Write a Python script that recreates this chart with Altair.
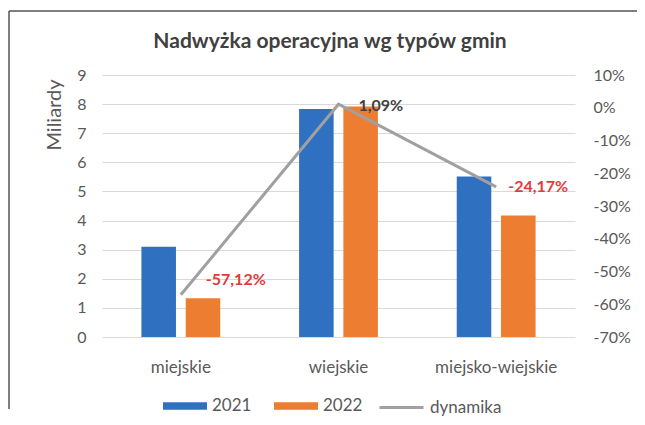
import altair as alt
import pandas as pd

title_text = "Nadwyżka operacyjna wg typów gmin"
categories = ["miejskie", "wiejskie", "miejsko-wiejskie"]
years = ["2021", "2022"]
values_2021 = [3.10, 7.83, 5.51]
values_2022 = [1.33, 7.92, 4.17]
dynamika = [-57.12, 1.09, -24.17]
dyn_labels = ["-57,12%", "1,09%", "-24,17%"]
line_name = "dynamika"
left_ticks = list(range(0, 10))
right_ticks = list(range(-70, 20, 10))

bars_df = pd.DataFrame({
    "cat": categories * 2,
    "year": [years[0]] * 3 + [years[1]] * 3,
    "val": values_2021 + values_2022,
})
line_df = pd.DataFrame({"cat": categories, "dyn": dynamika, "label": dyn_labels,
                        "series": [line_name] * 3})

FONT = "Lato"
BLUE = "#2f70c1"
ORANGE = "#ed7d31"
GRAY = "#a0a0a0"
RED = "#e23b3b"
DARK = "#404040"
LABEL = "#595959"
W, H = 473, 262

THICK = "M-1,-0.17H1V0.17H-1Z"

x_enc = alt.X(
    "cat:N", sort=categories,
    scale=alt.Scale(paddingInner=0.5, paddingOuter=0.25),
    axis=alt.Axis(title=None, labelAngle=0, ticks=False, domain=False, grid=False,
                  labelPadding=22, labelFontSize=17, labelColor=LABEL, labelFont=FONT),
)

bars = alt.Chart(bars_df).mark_bar().encode(
    x=x_enc,
    xOffset=alt.XOffset("year:N", scale=alt.Scale(paddingInner=0.22, paddingOuter=0)),
    y=alt.Y("val:Q", scale=alt.Scale(domain=[0, 9], nice=False),
            axis=alt.Axis(values=left_ticks, title="Miliardy", titleAnchor="end",
                          titleY=4, titleFontSize=20, titleFont=FONT,
                          titleFontWeight="normal",
                          titleColor=LABEL, titlePadding=12, labelFontSize=16,
                          labelFont=FONT, labelColor=LABEL, labelPadding=16,
                          ticks=False, domain=False, grid=True, gridColor="#d9d9d9")),
    color=alt.Color("year:N",
                    scale=alt.Scale(domain=years, range=[BLUE, ORANGE]),
                    legend=alt.Legend(orient="none", legendX=61, legendY=309,
                                      direction="horizontal", title=None,
                                      symbolType=THICK, symbolSize=1936,
                                      symbolStrokeWidth=0, labelFontSize=17,
                                      labelFont=FONT, labelColor=LABEL,
                                      labelOffset=5, columnPadding=22)),
)

y_right = alt.Y("dyn:Q", scale=alt.Scale(domain=[-70, 10], nice=False),
                axis=alt.Axis(orient="right", values=right_ticks, title=None,
                              labelExpr="datum.value + '%'", labelFontSize=16,
                              labelFont=FONT, labelColor=LABEL, labelPadding=18,
                              ticks=False, domain=False, grid=False))

line = alt.Chart(line_df).mark_line(strokeWidth=3).encode(
    x=alt.X("cat:N", sort=categories), y=y_right,
    color=alt.Color("series:N", scale=alt.Scale(domain=[line_name], range=[GRAY]),
                    legend=alt.Legend(orient="none", legendX=276, legendY=309,
                                      title=None, symbolType="stroke",
                                      symbolSize=1936, symbolStrokeWidth=3,
                                      labelFontSize=17, labelFont=FONT,
                                      labelColor=LABEL, labelOffset=5)))

def lab(cat, color, dx, dy):
    return alt.Chart(line_df).transform_filter(alt.datum.cat == cat).mark_text(
        align="left", baseline="middle", dx=dx, dy=dy, font=FONT, fontSize=16,
        fontWeight="bold", color=color).encode(
        x=alt.X("cat:N", sort=categories), y=y_right, text="label:N")

labels = [lab(categories[0], RED, 25, -15), lab(categories[1], DARK, 20, 2),
          lab(categories[2], RED, 12, 0)]

right_layer = alt.layer(line, *labels)

one = alt.Data(values=[{}])
frame_left = alt.Chart(one).mark_rule(color="#555555", strokeWidth=1.5).encode(
    x=alt.value(-93), y=alt.value(-64), y2=alt.value(334))
frame_top = alt.Chart(one).mark_rule(color="#555555", strokeWidth=1.5).encode(
    x=alt.value(-93), x2=alt.value(535), y=alt.value(-64))
title = alt.Chart(one).mark_text(
    text=title_text, font=FONT, fontSize=21, fontWeight="bold", color=DARK,
    align="center", baseline="middle").encode(x=alt.value(228), y=alt.value(-33))

chart = alt.layer(bars, right_layer, frame_left, frame_top, title).resolve_scale(
    y="independent", color="independent"
).properties(
    width=W, height=H,
    padding={"left": 94, "top": 67, "right": 62, "bottom": 80},
    autosize=alt.AutoSizeParams(type="none"),
).configure_view(stroke=None)

chart.save("out.html", embed_options={"renderer": "svg", "actions": False})
